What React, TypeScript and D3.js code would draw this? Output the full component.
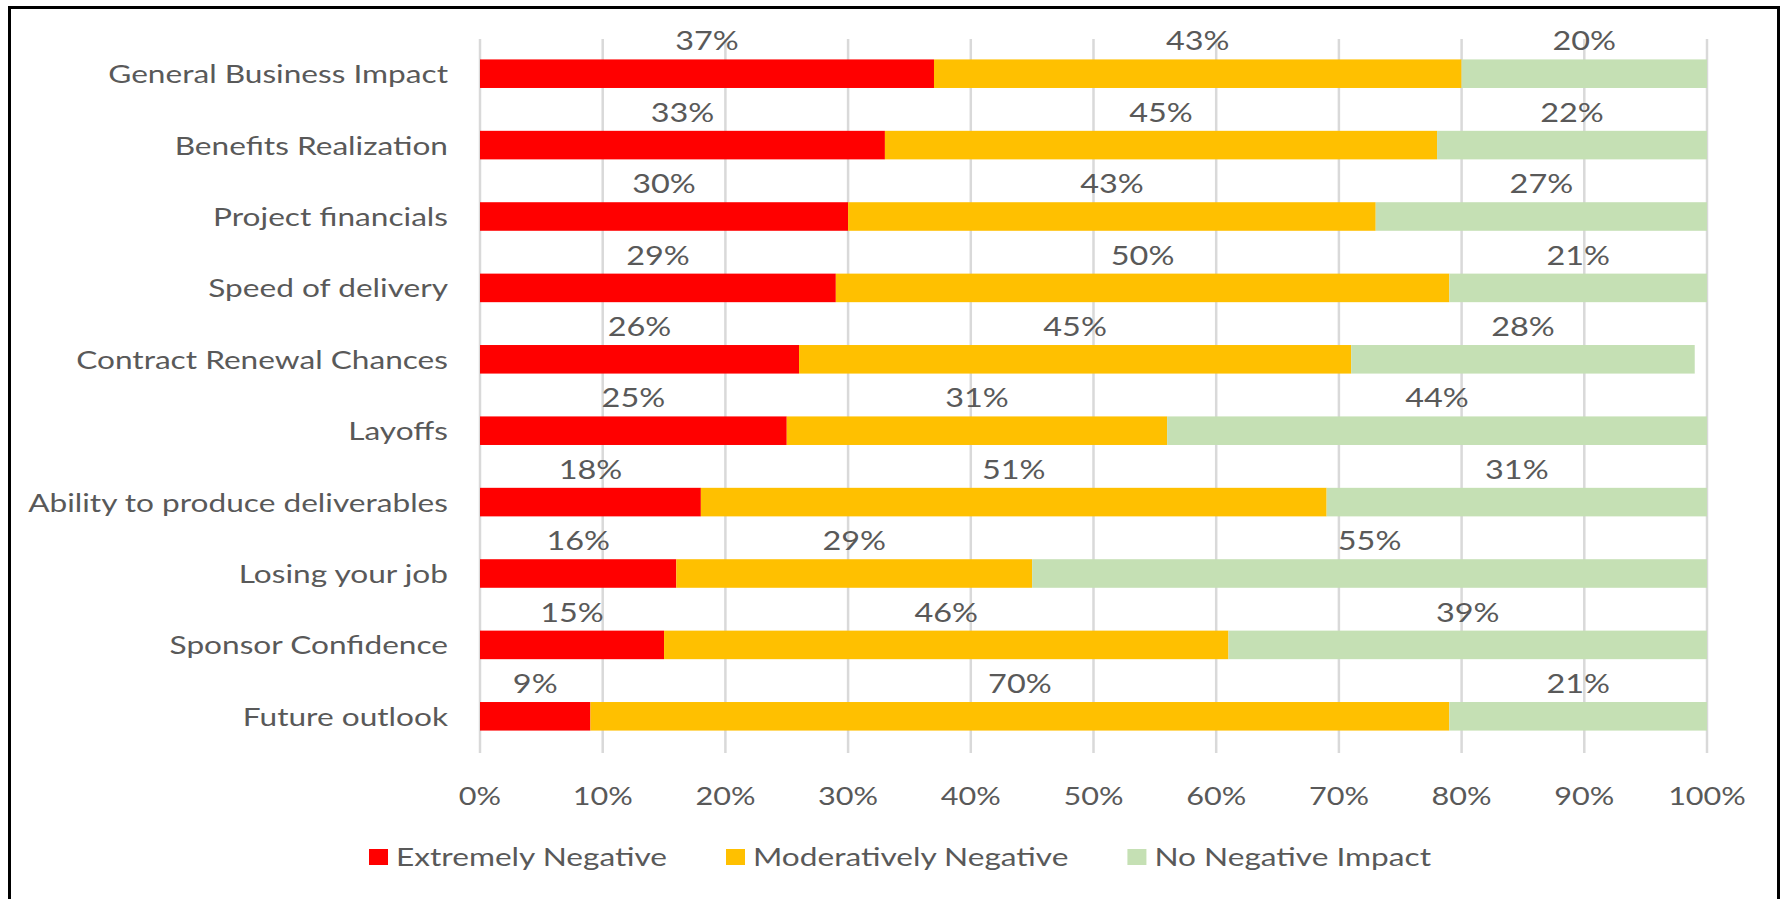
import { useEffect, useRef } from "react";
import * as d3 from "d3";

// categories, top to bottom
const categories = [
	"General Business Impact",
	"Benefits Realization",
	"Project financials",
	"Speed of delivery",
	"Contract Renewal Chances",
	"Layoffs",
	"Ability to produce deliverables",
	"Losing your job",
	"Sponsor Confidence",
	"Future outlook",
];

// series values (percent)
const extremelyNegative = [37, 33, 30, 29, 26, 25, 18, 16, 15, 9];
const moderativelyNegative = [43, 45, 43, 50, 45, 31, 51, 29, 46, 70];
const noNegativeImpact = [20, 22, 27, 21, 28, 44, 31, 55, 39, 21];

const seriesNames = ["Extremely Negative", "Moderatively Negative", "No Negative Impact"];
const seriesColors = ["#FF0000", "#FFC000", "#C5E0B4"];

const xTicks = [0, 10, 20, 30, 40, 50, 60, 70, 80, 90, 100];

const W = 1781;
const H = 899;
const FONT = "Lato, 'Open Sans', sans-serif";
const TEXT_COLOR = "#595959";
// the picture is stretched sideways, so text is too
const SX = 1.2;
const SX_WIDE = 1.24;

function App() {
	const ref = useRef<SVGSVGElement | null>(null);

	useEffect(() => {
		const svg = d3.select(ref.current);
		svg.selectAll("*").remove();

		const rows = categories.map((c, i) => ({
			category: c,
			[seriesNames[0]]: extremelyNegative[i],
			[seriesNames[1]]: moderativelyNegative[i],
			[seriesNames[2]]: noNegativeImpact[i],
		}));
		const stacked = d3.stack<any>().keys(seriesNames)(rows);

		const x = d3.scaleLinear().domain([0, 100]).range([480, 1707]);
		const y = d3
			.scaleBand<string>()
			.domain(categories)
			.range([38, 752])
			.paddingInner(0.6)
			.paddingOuter(0.3);

		svg.append("rect").attr("width", W).attr("height", H).attr("fill", "#fff");

		// frame
		svg
			.append("rect")
			.attr("x", 9.5)
			.attr("y", 7.5)
			.attr("width", 1769)
			.attr("height", 960)
			.attr("fill", "none")
			.attr("stroke", "#000")
			.attr("stroke-width", 3);

		// gridlines
		svg
			.append("g")
			.selectAll("line")
			.data(xTicks)
			.join("line")
			.attr("x1", (d) => x(d))
			.attr("x2", (d) => x(d))
			.attr("y1", 39)
			.attr("y2", 753)
			.attr("stroke", "#d9d9d9")
			.attr("stroke-width", 2.5);

		// bars
		stacked.forEach((layer, si) => {
			svg
				.append("g")
				.attr("fill", seriesColors[si])
				.selectAll("rect")
				.data(layer)
				.join("rect")
				.attr("x", (d) => x(d[0]))
				.attr("y", (d) => y(d.data.category)!)
				.attr("width", (d) => x(d[1]) - x(d[0]))
				.attr("height", y.bandwidth());
		});

		const textStyle = (g: any, fs: number) =>
			g
				.attr("font-family", FONT)
				.attr("font-size", fs)
				.attr("fill", TEXT_COLOR);

		// data labels above each segment
		stacked.forEach((layer) => {
			svg
				.append("g")
				.call(textStyle, 27)
				.attr("text-anchor", "middle")
				.selectAll("text")
				.data(layer)
				.join("text")
				.attr(
					"transform",
					(d) =>
						`translate(${x((d[0] + d[1]) / 2)},${y(d.data.category)! - 9}) scale(${SX},1)`,
				)
				.text((d) => `${d[1] - d[0]}%`);
		});

		// category labels
		svg
			.append("g")
			.call(textStyle, 25.5)
			.attr("text-anchor", "end")
			.selectAll("text")
			.data(categories)
			.join("text")
			.attr(
				"transform",
				(d) =>
					`translate(448,${y(d)! + y.bandwidth() / 2 + 9.5}) scale(${SX_WIDE},1)`,
			)
			.text((d) => d);

		// x tick labels
		svg
			.append("g")
			.call(textStyle, 25.5)
			.attr("text-anchor", "middle")
			.selectAll("text")
			.data(xTicks)
			.join("text")
			.attr("transform", (d) => `translate(${x(d)},805) scale(${SX},1)`)
			.text((d) => `${d}%`);

		// legend
		const legend = svg.append("g").call(textStyle, 25.5);
		const items = seriesNames.map((name, i) => {
			const g = legend.append("g");
			g.append("rect")
				.attr("x", 0)
				.attr("y", 849)
				.attr("width", 19)
				.attr("height", 16)
				.attr("fill", seriesColors[i]);
			const t = g
				.append("text")
				.attr("transform", `translate(27,866) scale(${SX_WIDE},1)`)
				.text(name);
			const w = 27 + (t.node() as SVGTextElement).getComputedTextLength() * SX_WIDE;
			return { g, w };
		});
		const gap = 59;
		const total = d3.sum(items, (d) => d.w) + gap * (items.length - 1);
		let cx = 900 - total / 2;
		items.forEach((it) => {
			it.g.attr("transform", `translate(${cx},0)`);
			cx += it.w + gap;
		});
	}, []);

	return (
		<div style={{ position: "absolute", left: 0, top: 0, width: W, height: H }}>
			<svg ref={ref} width={W} height={H} style={{ display: "block" }} />
		</div>
	);
}

export default App;
